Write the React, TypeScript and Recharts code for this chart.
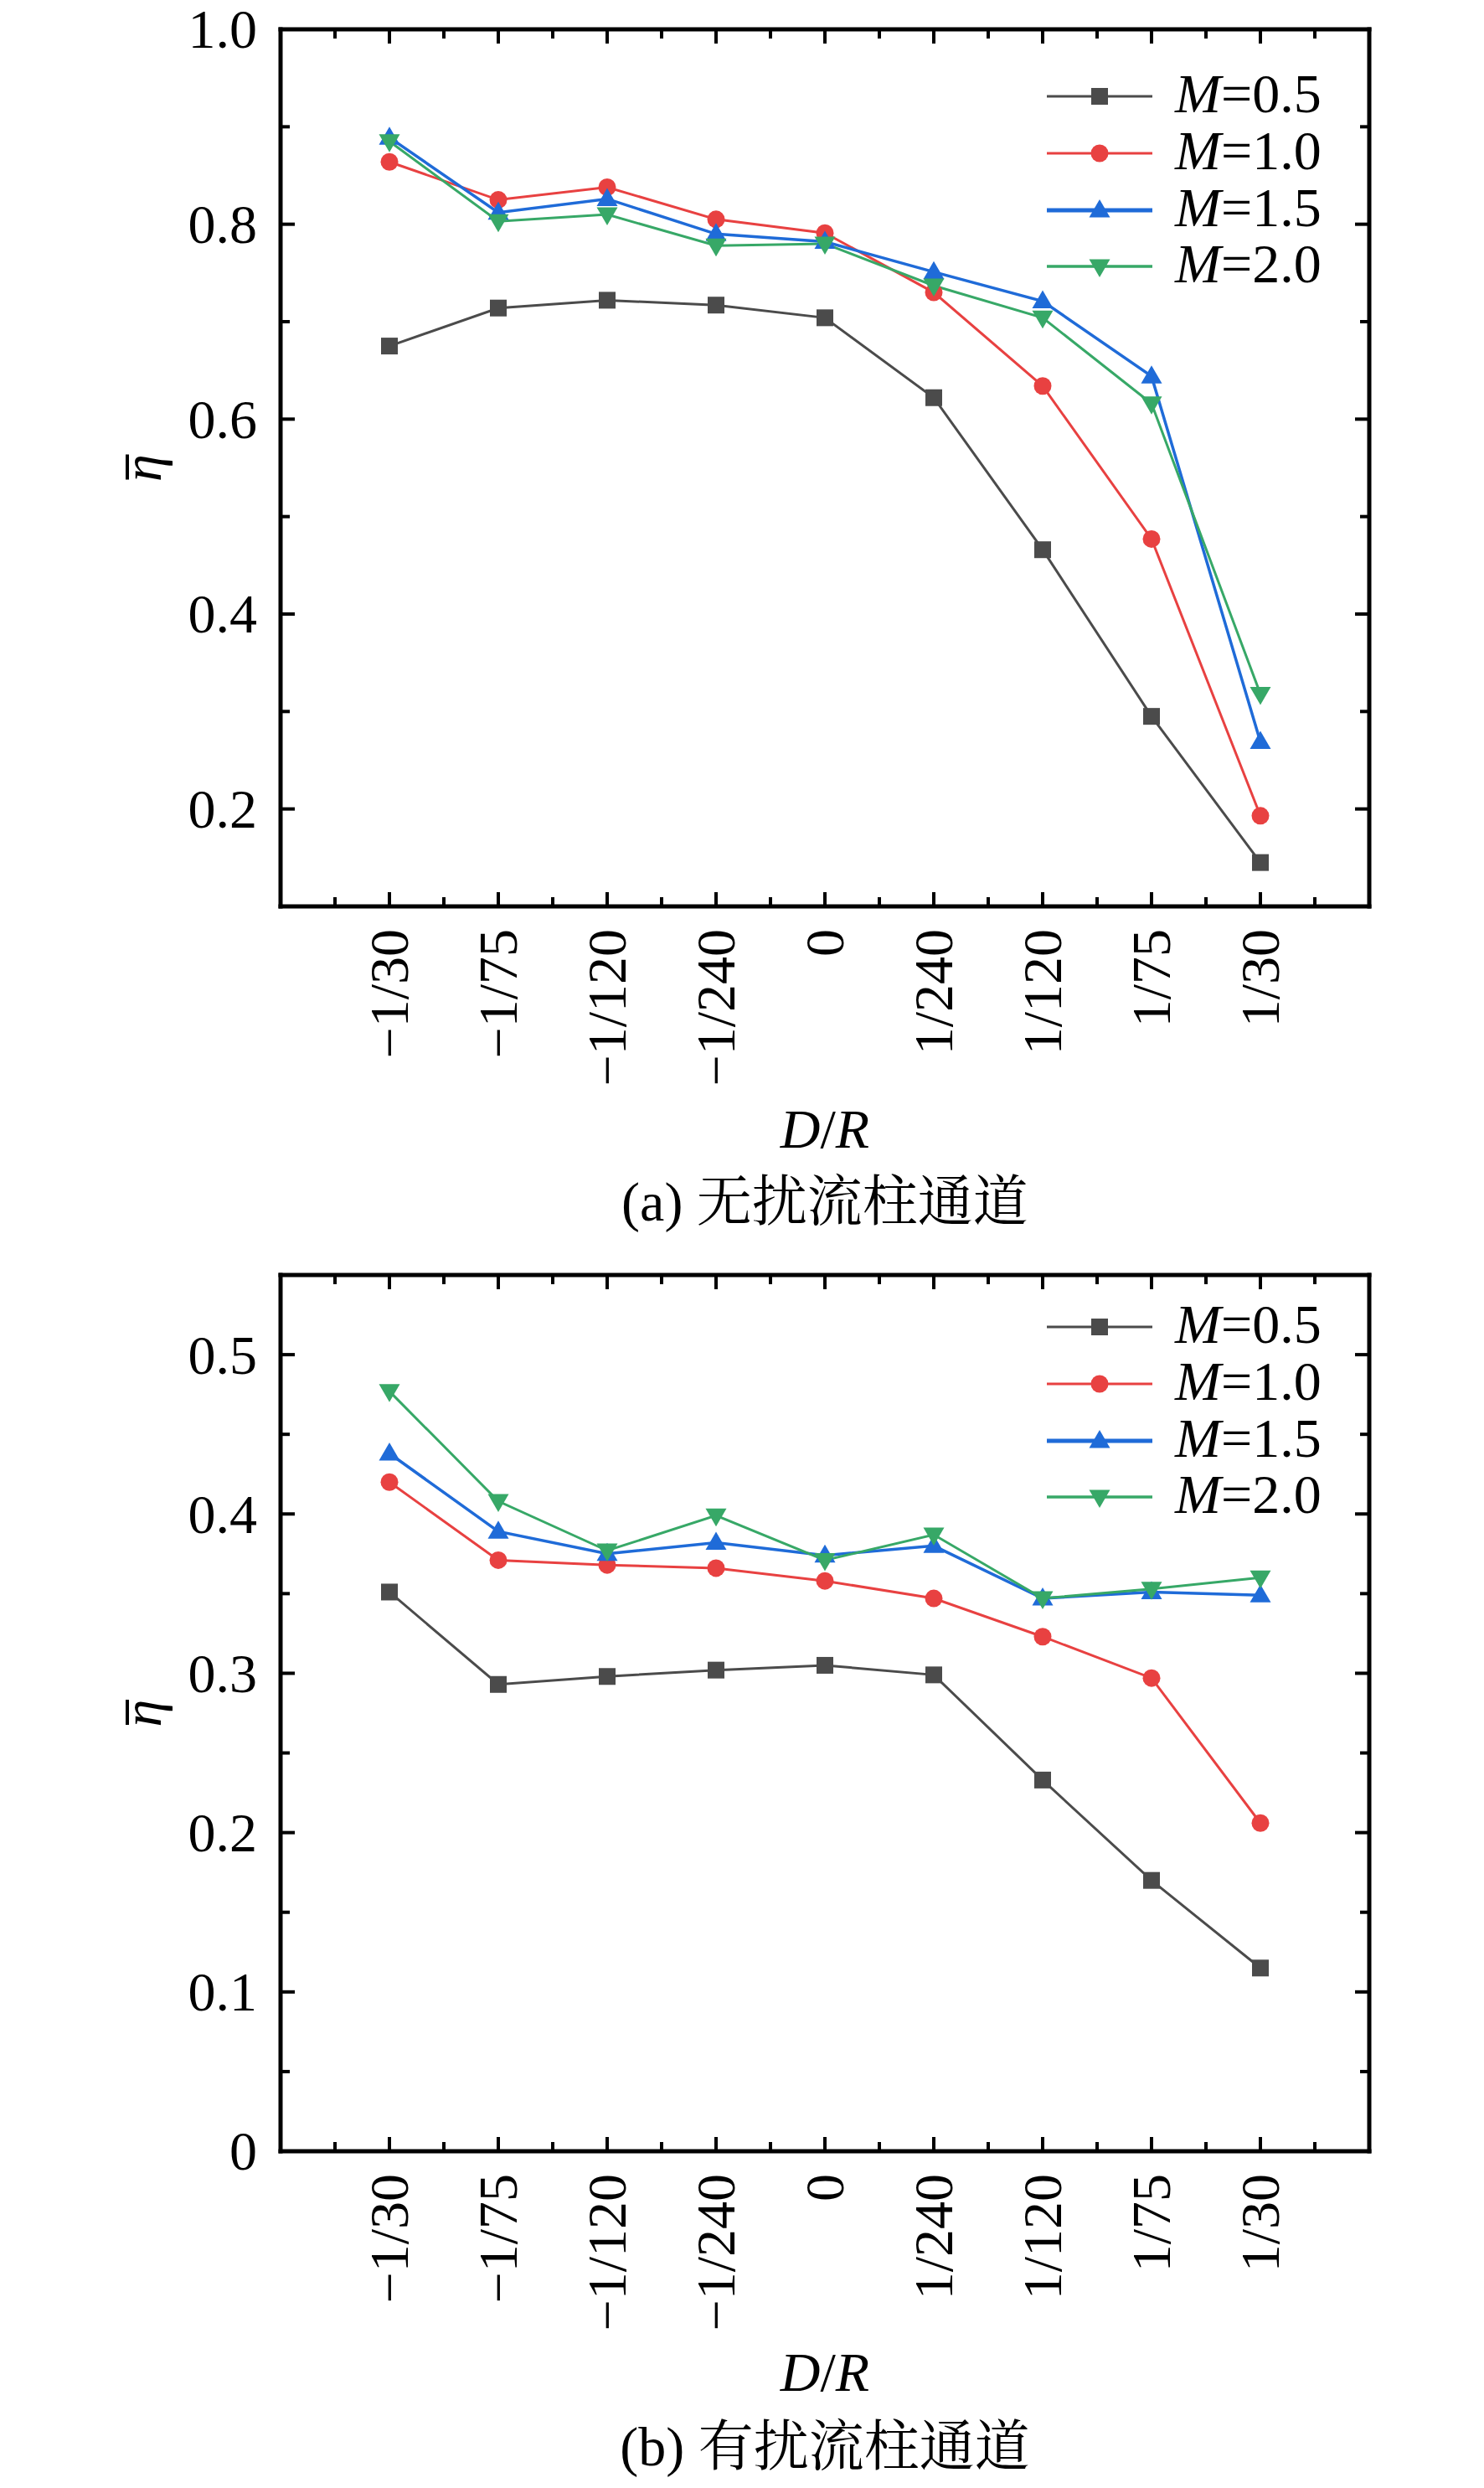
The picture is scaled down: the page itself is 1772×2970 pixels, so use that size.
import React from 'react';
import { LineChart, Line, XAxis, YAxis, Legend } from 'recharts';

const FONT = '"Liberation Serif", "Times New Roman", Times, serif';
const CJK_FONT = '"Liberation Serif", "Times New Roman", "Noto Serif CJK SC", "Noto Sans CJK SC", serif';

// ---------- data ----------
const categories = ['−1/30', '−1/75', '−1/120', '−1/240', '0', '1/240', '1/120', '1/75', '1/30'];
const xMajor = [0, 1, 2, 3, 4, 5, 6, 7, 8];
const xMinor = [-0.5, 0.5, 1.5, 2.5, 3.5, 4.5, 5.5, 6.5, 7.5, 8.5];

const seriesKeys = ['m05', 'm10', 'm15', 'm20'];
const seriesLabels = ['0.5', '1.0', '1.5', '2.0'];
const seriesColors = ['#4b4b4b', '#e84141', '#1f6bd8', '#37a867'];
const seriesShapes = ['square', 'circle', 'triangleUp', 'triangleDown'];

// (a) 无扰流柱通道
const a05 = [0.675, 0.714, 0.722, 0.717, 0.704, 0.622, 0.466, 0.295, 0.145];
const a10 = [0.864, 0.825, 0.838, 0.805, 0.791, 0.730, 0.634, 0.477, 0.193];
const a15 = [0.889, 0.812, 0.826, 0.790, 0.782, 0.751, 0.721, 0.644, 0.269];
const a20 = [0.885, 0.803, 0.810, 0.778, 0.780, 0.737, 0.704, 0.616, 0.318];

// (b) 有扰流柱通道
const b05 = [0.351, 0.293, 0.298, 0.302, 0.305, 0.299, 0.233, 0.170, 0.115];
const b10 = [0.420, 0.371, 0.368, 0.366, 0.358, 0.347, 0.323, 0.297, 0.206];
const b15 = [0.438, 0.389, 0.375, 0.382, 0.374, 0.380, 0.347, 0.351, 0.349];
const b20 = [0.477, 0.408, 0.377, 0.399, 0.371, 0.387, 0.347, 0.353, 0.360];

const yMajorA = [0.2, 0.4, 0.6, 0.8, 1.0];
const yMinorA = [0.3, 0.5, 0.7, 0.9];
const yDomainA = [0.1, 1.0];

const yMajorB = [0, 0.1, 0.2, 0.3, 0.4, 0.5];
const yMinorB = [0.05, 0.15, 0.25, 0.35, 0.45];
const yDomainB = [0, 0.55];

const captionA = '(a) 无扰流柱通道';
const captionB = '(b) 有扰流柱通道';

function buildRows(s05: number[], s10: number[], s15: number[], s20: number[]) {
  return categories.map((c, i) => ({ x: i, name: c, m05: s05[i], m10: s10[i], m15: s15[i], m20: s20[i] }));
}
const dataA = buildRows(a05, a10, a15, a20);
const dataB = buildRows(b05, b10, b15, b20);

// ---------- geometry ----------
const W = 1772;
const PL = 335;
const PR = 1635;
const TICK_MAJOR = 17;
const TICK_MINOR = 11;
const FS = 66;

function Marker({ shape, cx, cy, color, scale = 1 }: any) {
  if (cx == null || cy == null) return null;
  if (shape === 'square') {
    const s = 10 * scale;
    return <rect x={cx - s} y={cy - s} width={2 * s} height={2 * s} fill={color} />;
  }
  if (shape === 'circle') {
    return <circle cx={cx} cy={cy} r={10.5 * scale} fill={color} />;
  }
  if (shape === 'triangleUp') {
    const h = 13 * scale, b = 8.5 * scale, w = 12.5 * scale;
    return <polygon points={`${cx},${cy - h} ${cx - w},${cy + b} ${cx + w},${cy + b}`} fill={color} />;
  }
  const h = 13 * scale, b = 8.5 * scale, w = 12.5 * scale;
  return <polygon points={`${cx},${cy + h} ${cx - w},${cy - b} ${cx + w},${cy - b}`} fill={color} />;
}

function near(list: number[], v: number) {
  return list.some((t) => Math.abs(t - v) < 1e-6);
}

function fmtY(v: number) {
  return Math.abs(v) < 1e-9 ? '0' : v.toFixed(1);
}

function LegendBox() {
  const rows = [40, 108, 176, 243];
  const widths = [3, 3, 5, 3.5];
  return (
    <svg width={420} height={290} style={{ display: 'block', overflow: 'visible' }}>
      {seriesKeys.map((k, i) => (
        <g key={k}>
          <line x1={10} x2={136} y1={rows[i]} y2={rows[i]} stroke={seriesColors[i]} strokeWidth={widths[i]} />
          <Marker shape={seriesShapes[i]} cx={73} cy={rows[i]} color={seriesColors[i]} />
          <text x={163} y={rows[i] + 19} fontSize={FS} fontFamily={FONT} fill="#000">
            <tspan fontStyle="italic">M</tspan>
            <tspan>={seriesLabels[i]}</tspan>
          </text>
        </g>
      ))}
    </svg>
  );
}

function Panel({ height, plotTop, plotBottom, data, yDomain, yMajor, yMinor, legendTop, xLabelBaseline }: any) {
  const yTicks = [...yMajor, ...yMinor].sort((p: number, q: number) => p - q);
  const xTicks = [...xMajor, ...xMinor].sort((p, q) => p - q);
  const midY = (plotTop + plotBottom) / 2;

  const leftTick = (props: any) => {
    const { y, payload } = props;
    const v = payload.value;
    const major = near(yMajor, v);
    return (
      <g>
        <line x1={PL} x2={PL + (major ? TICK_MAJOR : TICK_MINOR)} y1={y} y2={y} stroke="#000" strokeWidth={4} />
        {major && (
          <text x={PL - 28} y={y} dy="0.34em" textAnchor="end" fontSize={FS} fontFamily={FONT} fill="#000">
            {fmtY(v)}
          </text>
        )}
      </g>
    );
  };
  const rightTick = (props: any) => {
    const { y, payload } = props;
    const major = near(yMajor, payload.value);
    return <line x1={PR} x2={PR - (major ? TICK_MAJOR : TICK_MINOR)} y1={y} y2={y} stroke="#000" strokeWidth={4} />;
  };
  const bottomTick = (props: any) => {
    const { x, payload } = props;
    const v = payload.value;
    const major = Number.isInteger(v);
    const ly = plotBottom + 27;
    return (
      <g>
        <line x1={x} x2={x} y1={plotBottom} y2={plotBottom - (major ? TICK_MAJOR : TICK_MINOR)} stroke="#000" strokeWidth={4} />
        {major && (
          <text
            x={x}
            y={ly}
            dy="0.34em"
            transform={`rotate(-90, ${x}, ${ly})`}
            textAnchor="end"
            fontSize={FS}
            fontFamily={FONT}
            fill="#000"
          >
            {categories[v]}
          </text>
        )}
      </g>
    );
  };
  const topTick = (props: any) => {
    const { x, payload } = props;
    const major = Number.isInteger(payload.value);
    return <line x1={x} x2={x} y1={plotTop} y2={plotTop + (major ? TICK_MAJOR : TICK_MINOR)} stroke="#000" strokeWidth={4} />;
  };

  const etaLabel = () => {
    const cx = 176;
    const cy = midY;
    return (
      <g transform={`rotate(-90, ${cx}, ${cy})`}>
        <text x={cx} y={cy + 16} textAnchor="middle" fontSize={FS} fontStyle="italic" fontFamily={FONT} fill="#000">
          η
        </text>
        <line x1={cx - 14} x2={cx + 16} y1={cy - 24} y2={cy - 24} stroke="#000" strokeWidth={4} />
      </g>
    );
  };
  const xLabel = () => (
    <text x={(PL + PR) / 2} y={xLabelBaseline} textAnchor="middle" fontSize={FS} fontFamily={FONT} fill="#000">
      <tspan fontStyle="italic">D</tspan>
      <tspan>/</tspan>
      <tspan fontStyle="italic">R</tspan>
    </text>
  );

  const axisLine = { stroke: '#000', strokeWidth: 5, strokeLinecap: 'square' };

  return (
    <LineChart
      width={W}
      height={height}
      data={data}
      margin={{ top: plotTop - 10, left: PL - 100, right: W - PR - 10, bottom: height - plotBottom - 60 }}
    >
      <XAxis
        dataKey="x"
        type="number"
        domain={[-1, 9]}
        ticks={xTicks}
        interval={0}
        allowDataOverflow
        height={60}
        tickLine={false}
        tickSize={0}
        tickMargin={0}
        axisLine={axisLine as any}
        tick={bottomTick}
        label={{ content: xLabel } as any}
      />
      <XAxis
        xAxisId="top"
        orientation="top"
        dataKey="x"
        type="number"
        domain={[-1, 9]}
        ticks={xTicks}
        interval={0}
        allowDataOverflow
        height={10}
        tickLine={false}
        tickSize={0}
        tickMargin={0}
        axisLine={axisLine as any}
        tick={topTick}
      />
      <YAxis
        type="number"
        domain={yDomain}
        ticks={yTicks}
        interval={0}
        allowDataOverflow
        width={100}
        tickLine={false}
        tickSize={0}
        tickMargin={0}
        axisLine={axisLine as any}
        tick={leftTick}
        label={{ content: etaLabel } as any}
      />
      <YAxis
        yAxisId="right"
        orientation="right"
        type="number"
        domain={yDomain}
        ticks={yTicks}
        interval={0}
        allowDataOverflow
        width={10}
        tickLine={false}
        tickSize={0}
        tickMargin={0}
        axisLine={axisLine as any}
        tick={rightTick}
      />
      {seriesKeys.map((k, i) => (
        <Line
          key={k}
          type="linear"
          dataKey={k}
          name={`M=${seriesLabels[i]}`}
          stroke={seriesColors[i]}
          strokeWidth={i === 2 ? 3.5 : 3}
          isAnimationActive={false}
          dot={(p: any) => <Marker key={`${k}-${p.index}`} shape={seriesShapes[i]} cx={p.cx} cy={p.cy} color={seriesColors[i]} />}
          activeDot={false}
        />
      ))}
      <Legend
        layout="vertical"
        align="center"
        verticalAlign="middle"
        content={() => <LegendBox />}
        wrapperStyle={{ position: 'absolute', left: 1240, top: legendTop, width: 420, height: 290 }}
      />
    </LineChart>
  );
}

function Caption({ text, centerY }: { text: string; centerY: number }) {
  return (
    <div
      style={{
        position: 'absolute',
        left: (PL + PR) / 2 - 500,
        width: 1000,
        top: centerY - FS / 2,
        height: FS,
        lineHeight: `${FS}px`,
        fontSize: FS,
        fontFamily: CJK_FONT,
        textAlign: 'center',
        color: '#000',
        whiteSpace: 'nowrap',
      }}
    >
      {text}
    </div>
  );
}

export default function App() {
  return (
    <div style={{ position: 'absolute', left: 0, top: 0, width: W, height: 2970, background: '#fff', overflow: 'hidden' }}>
      <div style={{ position: 'absolute', left: 0, top: 0 }}>
        <Panel
          height={1480}
          plotTop={35}
          plotBottom={1082}
          data={dataA}
          yDomain={yDomainA}
          yMajor={yMajorA}
          yMinor={yMinorA}
          legendTop={75}
          xLabelBaseline={1370}
        />
      </div>
      <Caption text={captionA} centerY={1435} />
      <div style={{ position: 'absolute', left: 0, top: 1480 }}>
        <Panel
          height={1490}
          plotTop={42}
          plotBottom={1088}
          data={dataB}
          yDomain={yDomainB}
          yMajor={yMajorB}
          yMinor={yMinorB}
          legendTop={64}
          xLabelBaseline={1374}
        />
      </div>
      <Caption text={captionB} centerY={2921} />
    </div>
  );
}
